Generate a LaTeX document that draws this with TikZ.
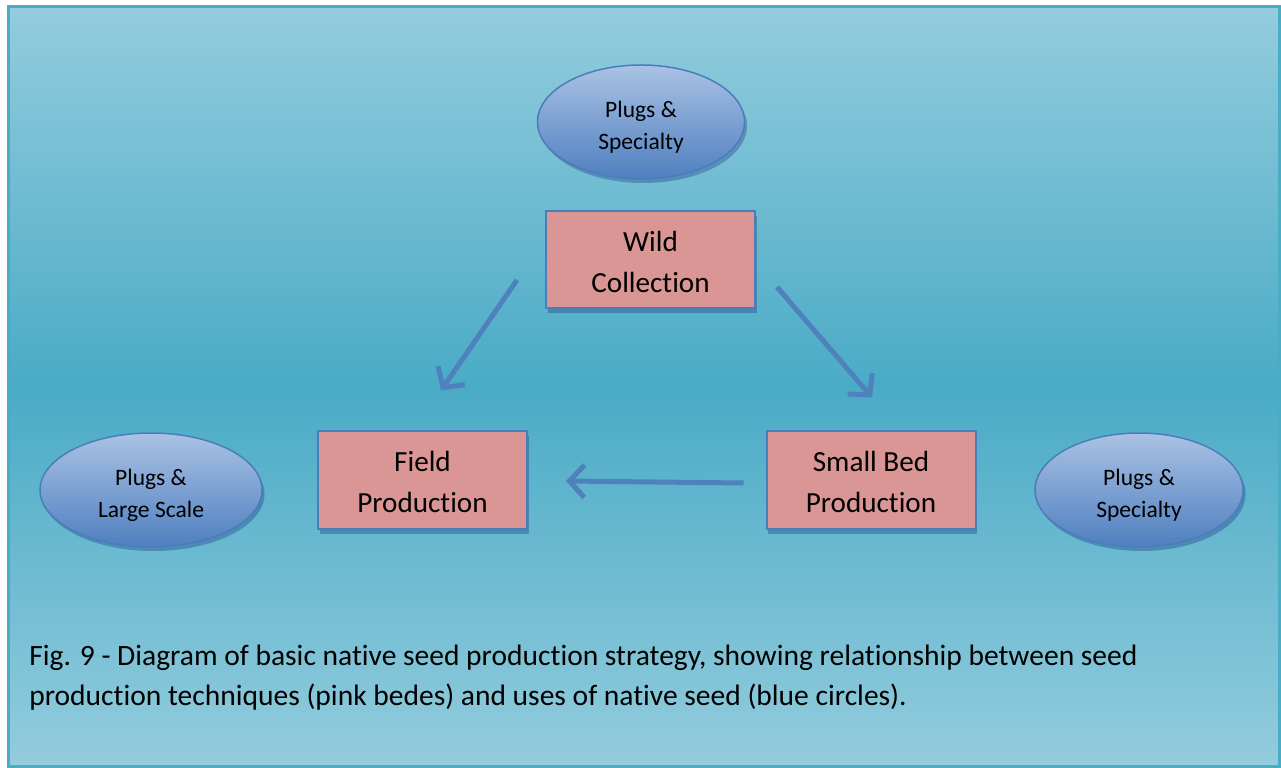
\documentclass[tikz,border=0pt]{standalone}
\usepackage{fontspec}
\setmainfont{Carlito}[Ligatures=NoCommon]
\usepackage{xcolor}
\usepackage{tikz}
\usetikzlibrary{arrows.meta,shapes.geometric,shadows,calc}

\definecolor{bgLight}{HTML}{93CCDD}
\definecolor{bgDark}{HTML}{4AABC6}
\definecolor{frameBlue}{HTML}{4BACC6}
\definecolor{edgeBlue}{HTML}{4A7EBB}
\definecolor{pinkFill}{HTML}{D99694}
\definecolor{ovalTop}{HTML}{AAC2E4}
\definecolor{ovalBot}{HTML}{4F7FC0}
\definecolor{arrowBlue}{HTML}{4F81BD}

\begin{document}
\begin{tikzpicture}[
x=0.2mm, y=-0.2mm,
bed/.style={draw=edgeBlue, line width=0.4mm, fill=pinkFill, minimum width=41.8mm, minimum height=19.4mm, inner sep=0pt, align=center, text height=13.1mm, font=\fontsize{16.6}{23.2}\selectfont, drop shadow={shadow xshift=0.3mm, shadow yshift=-1mm, fill=black!60!blue, opacity=0.25}},
use/.style={ellipse, draw=edgeBlue, line width=0.3mm, top color=ovalTop, bottom color=ovalBot, minimum height=22.8mm, inner sep=0pt, align=center, text height=11.9mm, font=\fontsize{13.4}{18.2}\selectfont, drop shadow={shadow xshift=0.5mm, shadow yshift=-0.8mm, fill=black!60!blue, opacity=0.25}},
arr/.style={-{Straight Barb[length=3mm,width=6.5mm]}, line width=1mm, draw=arrowBlue}
]
\useasboundingbox (0,0) rectangle (1281,768);
% background panel
\shade[top color=bgLight, bottom color=bgLight, middle color=bgDark] (8,7) rectangle (1279,766);
\draw[frameBlue, line width=0.6mm] (8,7) rectangle (1279,766);

% seed production techniques
\node[bed] (wild) at (650.5,259.5) {Wild\\Collection};
\node[bed] (field) at (422.5,480) {Field\\Production};
\node[bed] (small) at (871,480) {Small Bed\\Production};

% uses of native seed
\node[use, minimum width=41.4mm] (plugsTop) at (641,122) {Plugs \&\\Specialty};
\node[use, minimum width=44.4mm] (plugsLeft) at (151,490) {Plugs \&\\Large Scale};
\node[use, minimum width=41.6mm] (plugsRight) at (1139,490) {Plugs \&\\Specialty};

% arrow ends
\coordinate (wildL) at ($(wild.south west)+(-28,-29)$);
\coordinate (fieldT) at ($(field.north)+(18.5,-40)$);
\coordinate (wildR) at ($(wild.south east)+(21,-22)$);
\coordinate (smallT) at ($(small.north)+(1,-33)$);
\coordinate (smallL) at ($(small.west)+(-22,3)$);
\coordinate (fieldR) at ($(field.east)+(38,1)$);

\draw[arr] (wildL) -- (fieldT);
\draw[arr] (wildR) -- (smallT);
\draw[arr] (smallL) -- (fieldR);

% caption
\node[anchor=west, align=left, inner sep=0pt, font=\fontsize{16.8}{22.7}\selectfont] (caption) at (29,678)
{Fig. 9 - Diagram of basic native seed production strategy, showing relationship between seed\\production techniques (pink bedes) and uses of native seed (blue circles).};
\end{tikzpicture}
\end{document}
